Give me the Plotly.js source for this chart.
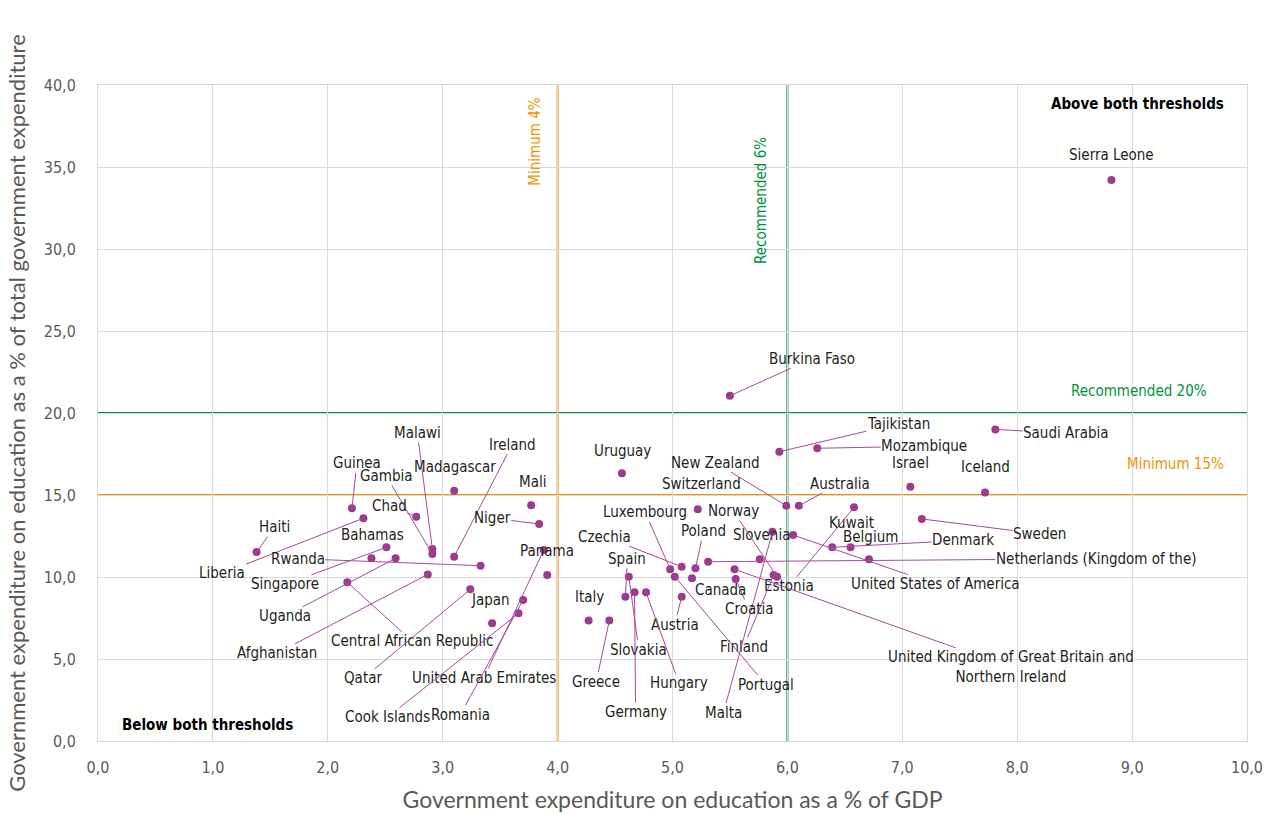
<!DOCTYPE html>
<html>
<head>
<meta charset="utf-8">
<script src="https://cdn.plot.ly/plotly-3.0.1.min.js"></script>
<style>html,body{margin:0;padding:0;background:#fff;}#chart{width:1264px;height:814px;}</style>
</head>
<body>
<div id="chart"></div>
<script>
// ---- Data ----
const countries = [
  "Haiti","Liberia","Guinea","Gambia","Chad","Malawi","Madagascar","Ireland","Mali","Niger",
  "Bahamas","Rwanda","Singapore","Uganda","Afghanistan","Central African Republic","Qatar","Japan",
  "United Arab Emirates","Cook Islands","Romania","Panama","Uruguay","Burkina Faso","Sierra Leone",
  "Tajikistan","Mozambique","Saudi Arabia","Israel","Iceland","Sweden","Denmark",
  "Netherlands (Kingdom of the)","United States of America","Estonia","Kuwait","Belgium","Slovenia",
  "Norway","Finland","Malta","Croatia","Canada","United Kingdom of Great Britain and Northern Ireland",
  "Poland","Czechia","Luxembourg","Portugal","Austria","Switzerland","New Zealand","Australia",
  "Spain","Slovakia","Germany","Hungary","Italy","Greece"
];
const gdpShare = [
  1.38,2.31,2.21,2.91,2.77,2.91,3.10,3.10,3.77,3.84,
  2.38,3.33,2.51,2.59,2.87,2.17,3.24,3.43,
  3.88,3.66,3.70,3.91,4.56,5.50,8.82,
  5.93,6.26,7.81,7.07,7.72,7.17,6.39,
  5.31,6.05,6.58,6.55,6.71,5.76,
  5.91,5.88,5.87,5.55,5.17,5.54,
  5.20,5.08,4.98,5.02,5.08,5.22,5.99,6.10,
  4.59,4.62,4.67,4.77,4.27,4.45
];
const totalShare = [
  11.52,13.58,14.19,11.40,13.68,11.71,15.26,11.24,14.37,13.23,
  11.14,10.69,11.81,11.14,10.16,9.68,9.25,7.18,
  11.65,7.79,8.60,10.12,16.32,21.05,34.2,
  17.64,17.85,19.00,15.51,15.16,13.54,11.81,
  10.93,12.56,14.25,11.81,11.08,11.08,
  10.02,10.12,12.76,9.88,9.92,10.47,
  10.53,10.63,10.47,10.02,8.80,14.13,14.35,14.35,
  8.80,10.02,9.07,9.07,7.34,7.34
];
const xTickLabels = ["0,0","1,0","2,0","3,0","4,0","5,0","6,0","7,0","8,0","9,0","10,0"];
const yTickLabels = ["0,0","5,0","10,0","15,0","20,0","25,0","30,0","35,0","40,0"];
const minGDP = 4, recGDP = 6, minTotal = 15, recTotal = 20;

// ---- Label placement (pixel offsets from the point; leader = draw a connector) ----
const labelPlacement = {
  "Haiti":[18,-25,true],"Liberia":[-141,55,true],"Guinea":[5,-45,true],"Gambia":[-46,-78,true],
  "Chad":[-27,-11,true],"Malawi":[-15,-116,true],"Madagascar":[1,-24,false],"Ireland":[58,-112,true],
  "Mali":[1,-23,false],"Niger":[-47,-6,true],"Bahamas":[1,-23,false],"Rwanda":[-183,-7,true],
  "Singapore":[-101,37,true],"Uganda":[-111,58,true],"Afghanistan":[-151,79,true],
  "Central African Republic":[65,59,true],"Qatar":[-107,89,true],"Japan":[-2,-23,false],
  "United Arab Emirates":[-60,128,true],"Cook Islands":[-131,104,true],"Romania":[-63,115,true],
  "Panama":[0,-24,false],"Uruguay":[1,-22,false],"Burkina Faso":[82,-37,true],"Sierra Leone":[0,-25,false],
  "Tajikistan":[119,-28,true],"Mozambique":[107,-2,true],"Saudi Arabia":[71,4,true],
  "Israel":[0,-24,false],"Iceland":[0,-25,false],"Sweden":[118,15,true],"Denmark":[131,-7,true],
  "Netherlands (Kingdom of the)":[388,-3,true],"United States of America":[142,49,true],
  "Estonia":[-65,79,true],"Kuwait":[1,-24,false],"Belgium":[2,-22,false],"Slovenia":[2,-24,false],
  "Norway":[-44,-66,true],"Finland":[-30,72,true],"Malta":[-49,181,true],"Croatia":[13,30,true],
  "Canada":[28,12,false],"United Kingdom of Great Britain and Northern Ireland":[276,98,true],
  "Poland":[8,-37,true],"Czechia":[-77,-30,true],"Luxembourg":[-25,-57,true],"Portugal":[91,108,true],
  "Austria":[-7,28,true],"Switzerland":[4,-25,false],"New Zealand":[-71,-43,true],"Australia":[41,-22,true],
  "Spain":[2,-38,true],"Slovakia":[10,73,true],"Germany":[1,120,true],"Hungary":[33,91,true],
  "Italy":[1,-24,false],"Greece":[-13,61,true]
};

const purple = "#9e3a8e";
const leaderColor = "#a8499c";
const orange = "#f39200";
const green = "#00923f";
const narrow = "'Liberation Sans Narrow','Arial Narrow','DejaVu Sans Condensed',sans-serif";
const labelFont = {family: narrow, size: 15, color: "#231f20"};

const annotations = countries.map((c, i) => {
  const p = labelPlacement[c] || [0, -22, false];
  const text = c === "United Kingdom of Great Britain and Northern Ireland"
    ? "United Kingdom of Great Britain and<br>Northern Ireland" : c;
  if (p[2]) {
    return {x: gdpShare[i], y: totalShare[i], xref: "x", yref: "y", text: text,
      showarrow: true, ax: p[0], ay: p[1], arrowhead: 0, arrowwidth: 1, arrowcolor: leaderColor,
      standoff: 0, startstandoff: 0, font: labelFont, align: "center", borderpad: 0};
  }
  return {x: gdpShare[i], y: totalShare[i], xref: "x", yref: "y", text: text,
    showarrow: false, xshift: p[0], yshift: -p[1], font: labelFont, align: "center"};
});

annotations.push(
  {x: 9.06, y: 21.34, xref: "x", yref: "y", text: "Recommended " + recTotal + "%", showarrow: false,
   font: {family: narrow, size: 15, color: green}},
  {x: 9.38, y: 16.89, xref: "x", yref: "y", text: "Minimum " + minTotal + "%", showarrow: false,
   font: {family: narrow, size: 15, color: orange}},
  {x: 3.80, y: 36.52, xref: "x", yref: "y", text: "Minimum " + minGDP + "%", showarrow: false, textangle: -90,
   font: {family: narrow, size: 15, color: orange}},
  {x: 5.77, y: 32.99, xref: "x", yref: "y", text: "Recommended " + recGDP + "%", showarrow: false, textangle: -90,
   font: {family: narrow, size: 15, color: green}},
  {x: 9.05, y: 38.84, xref: "x", yref: "y", text: "<b>Above both thresholds</b>", showarrow: false,
   font: {family: narrow, size: 15, color: "#000"}},
  {x: 0.95, y: 0.98, xref: "x", yref: "y", text: "<b>Below both thresholds</b>", showarrow: false,
   font: {family: narrow, size: 15, color: "#000"}}
);

const shapes = [
  {type: "line", xref: "x", yref: "paper", x0: minGDP, x1: minGDP, y0: 0, y1: 1, layer: "between", line: {color: orange, width: 2}},
  {type: "line", xref: "x", yref: "paper", x0: recGDP, x1: recGDP, y0: 0, y1: 1, layer: "between", line: {color: green, width: 2}},
  {type: "line", xref: "paper", yref: "y", x0: 0, x1: 1, y0: minTotal, y1: minTotal, layer: "between", line: {color: orange, width: 2}},
  {type: "line", xref: "paper", yref: "y", x0: 0, x1: 1, y0: recTotal, y1: recTotal, layer: "between", line: {color: green, width: 2}}
];

const trace = {
  type: "scatter", mode: "markers", x: gdpShare, y: totalShare, text: countries,
  marker: {color: purple, size: 8}, hoverinfo: "text+x+y", cliponaxis: false
};

const tickVals = (n, step) => Array.from({length: n}, (_, k) => k * step);

const layout = {
  width: 1264, height: 814,
  margin: {l: 98, r: 17, t: 85, b: 73, pad: 0},
  paper_bgcolor: "#fff", plot_bgcolor: "#fff",
  showlegend: false,
  separators: ", ",
  xaxis: {
    range: [0, 10.0001], tickvals: tickVals(11, 1), ticktext: xTickLabels,
    showgrid: true, gridcolor: "#d9d9d9", gridwidth: 1, zeroline: false,
    showline: true, linecolor: "#d9d9d9", linewidth: 1, mirror: true,
    ticks: "", ticklabelstandoff: 12, ticklabeloverflow: "allow",
    tickfont: {family: narrow, size: 16, color: "#595959"},
    title: {text: "Government expenditure on education as a % of GDP", standoff: 15,
      font: {family: "Lato, 'Open Sans', sans-serif", size: 23, color: "#595959"}}
  },
  yaxis: {
    range: [0, 40], tickvals: tickVals(9, 5), ticktext: yTickLabels,
    showgrid: true, gridcolor: "#d9d9d9", gridwidth: 1, zeroline: false,
    showline: true, linecolor: "#d9d9d9", linewidth: 1, mirror: true,
    ticks: "", ticklabelstandoff: 18, ticklabeloverflow: "allow",
    tickfont: {family: narrow, size: 16, color: "#595959"},
    title: {text: "Government expenditure on education as a % of total government expenditure", standoff: 12,
      font: {family: "Lato, 'Open Sans', sans-serif", size: 22, color: "#595959"}}
  },
  shapes: shapes,
  annotations: annotations
};

Plotly.newPlot("chart", [trace], layout, {staticPlot: true, displayModeBar: false});
</script>
</body>
</html>
